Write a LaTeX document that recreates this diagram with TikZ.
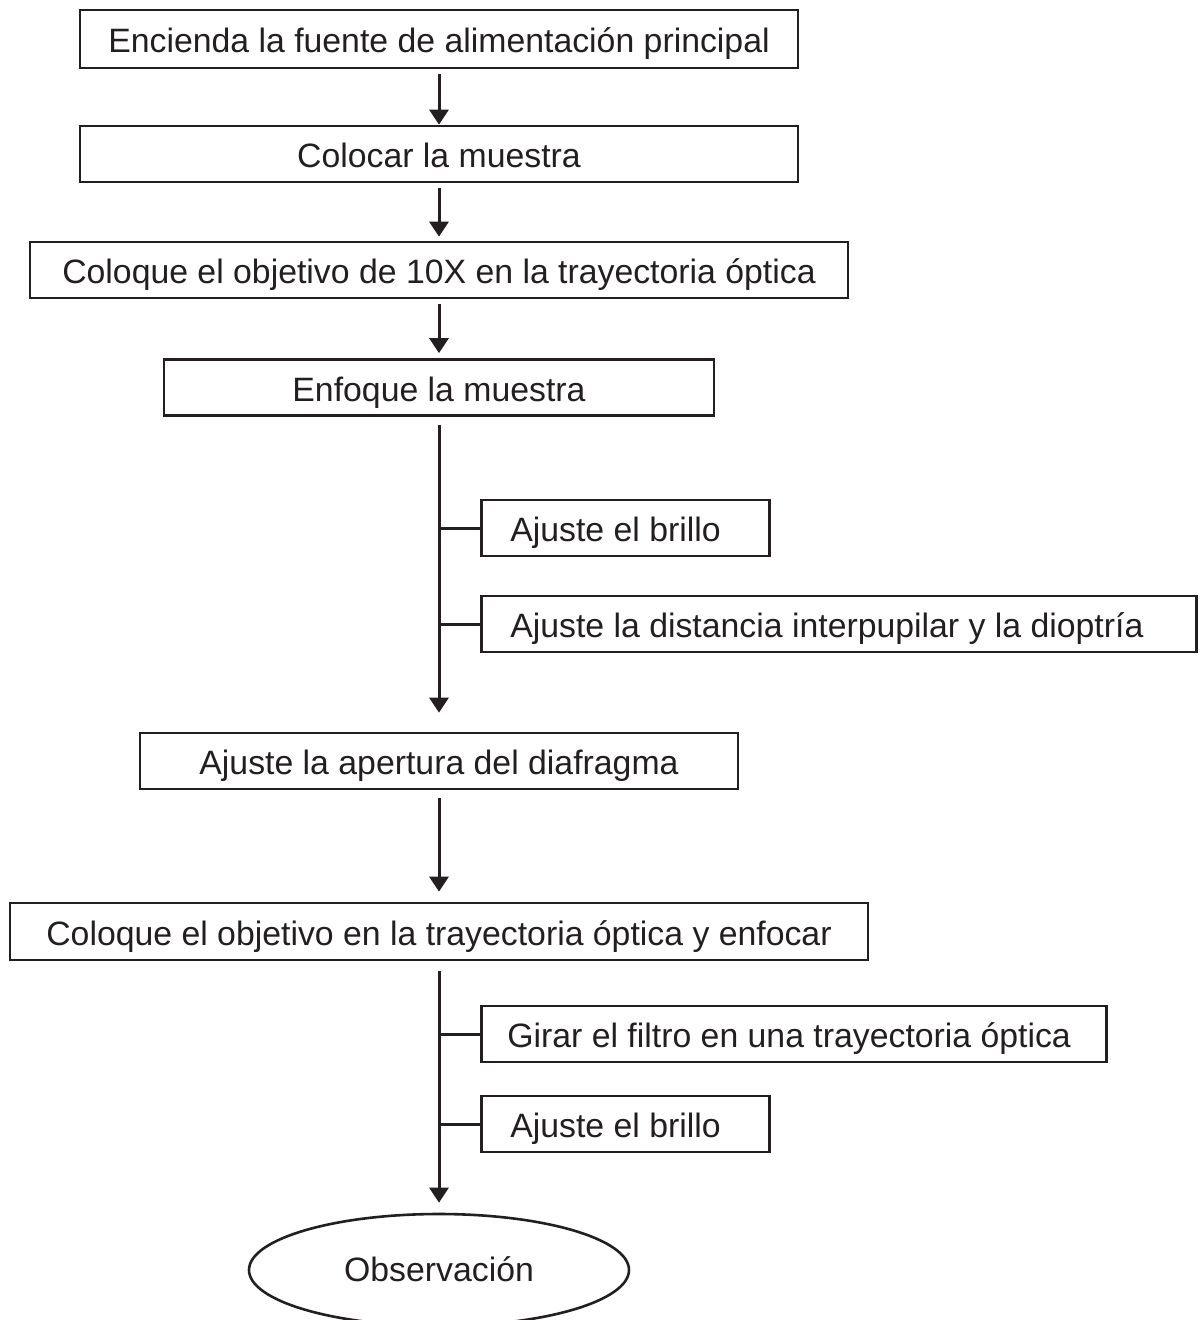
\documentclass[tikz,border=0pt]{standalone}
\usepackage{fontspec}
\setmainfont{Liberation Sans}
\usetikzlibrary{arrows.meta,shapes.geometric}

\definecolor{inkc}{RGB}{35,31,32}

\tikzset{
    box/.style={draw=inkc, line width=2.6pt, minimum height=56pt, inner sep=0pt, text height=27pt, text depth=0pt, text=inkc},
    sidebox/.style={draw=inkc, line width=2.6pt, minimum height=56pt, anchor=west, inner xsep=29pt, inner ysep=0pt, text height=27pt, text depth=0pt, align=flush left, text=inkc},
    flow/.style={draw=inkc, line width=3pt, -{Triangle[length=15pt,width=19pt]}},
    branch/.style={draw=inkc, line width=3pt}
}

\begin{document}
\begin{tikzpicture}[x=1pt,y=1pt,yscale=-1,font=\fontsize{33.8}{40}\selectfont]
    \useasboundingbox (0,0) rectangle (1201,1320);

    %Main steps
    \node[box, minimum width=718pt, minimum height=58pt] (encienda) at (439,39) {Encienda la fuente de alimentación principal};
    \node[box, minimum width=718pt] (colocar) at (439,154) {Colocar la muestra};
    \node[box, minimum width=818pt] (obj10) at (439,270) {Coloque el objetivo de 10X en la trayectoria óptica};
    \node[box, minimum width=550pt] (enfoque) at (439,387.5) {Enfoque la muestra};

    %Side steps 1
    \node[sidebox, text width=230pt] (brillo1) at (480,528) {Ajuste el brillo};
    \node[sidebox, text width=657pt] (distancia) at (480,624) {Ajuste la distancia interpupilar y la dioptría};

    \node[box, minimum width=598pt] (diafragma) at (439,761) {Ajuste la apertura del diafragma};
    \node[box, minimum width=858pt, minimum height=57pt] (objetivo) at (439,931.5) {Coloque el objetivo en la trayectoria óptica y enfocar};

    %Side steps 2
    \node[sidebox, inner xsep=26pt, text width=573pt] (filtro) at (480,1034) {Girar el filtro en una trayectoria óptica};
    \node[sidebox, text width=230pt] (brillo2) at (480,1124) {Ajuste el brillo};

    %End
    \node[ellipse, draw=inkc, line width=2.6pt, minimum width=380pt, minimum height=112pt, inner sep=0pt, text height=22pt, text depth=0pt, text=inkc] (observ) at (439,1270) {Observación};

    %Arrows
    \draw[flow, shorten <=5pt] (encienda) -- (colocar);
    \draw[flow, shorten <=5pt, shorten >=4pt] (colocar) -- (obj10);
    \draw[flow, shorten <=5pt, shorten >=5pt] (obj10) -- (enfoque);
    \draw[flow, shorten <=8pt, shorten >=19pt] (enfoque) -- (diafragma);
    \draw[flow, shorten <=8pt, shorten >=10pt] (diafragma) -- (objetivo);
    \draw[flow, shorten <=10pt, shorten >=10pt] (objetivo) -- (observ);

    %Branches
    \draw[branch] (brillo1.west -| enfoque) -- (brillo1.west);
    \draw[branch] (distancia.west -| enfoque) -- (distancia.west);
    \draw[branch] (filtro.west -| objetivo) -- (filtro.west);
    \draw[branch] (brillo2.west -| objetivo) -- (brillo2.west);
\end{tikzpicture}
\end{document}
